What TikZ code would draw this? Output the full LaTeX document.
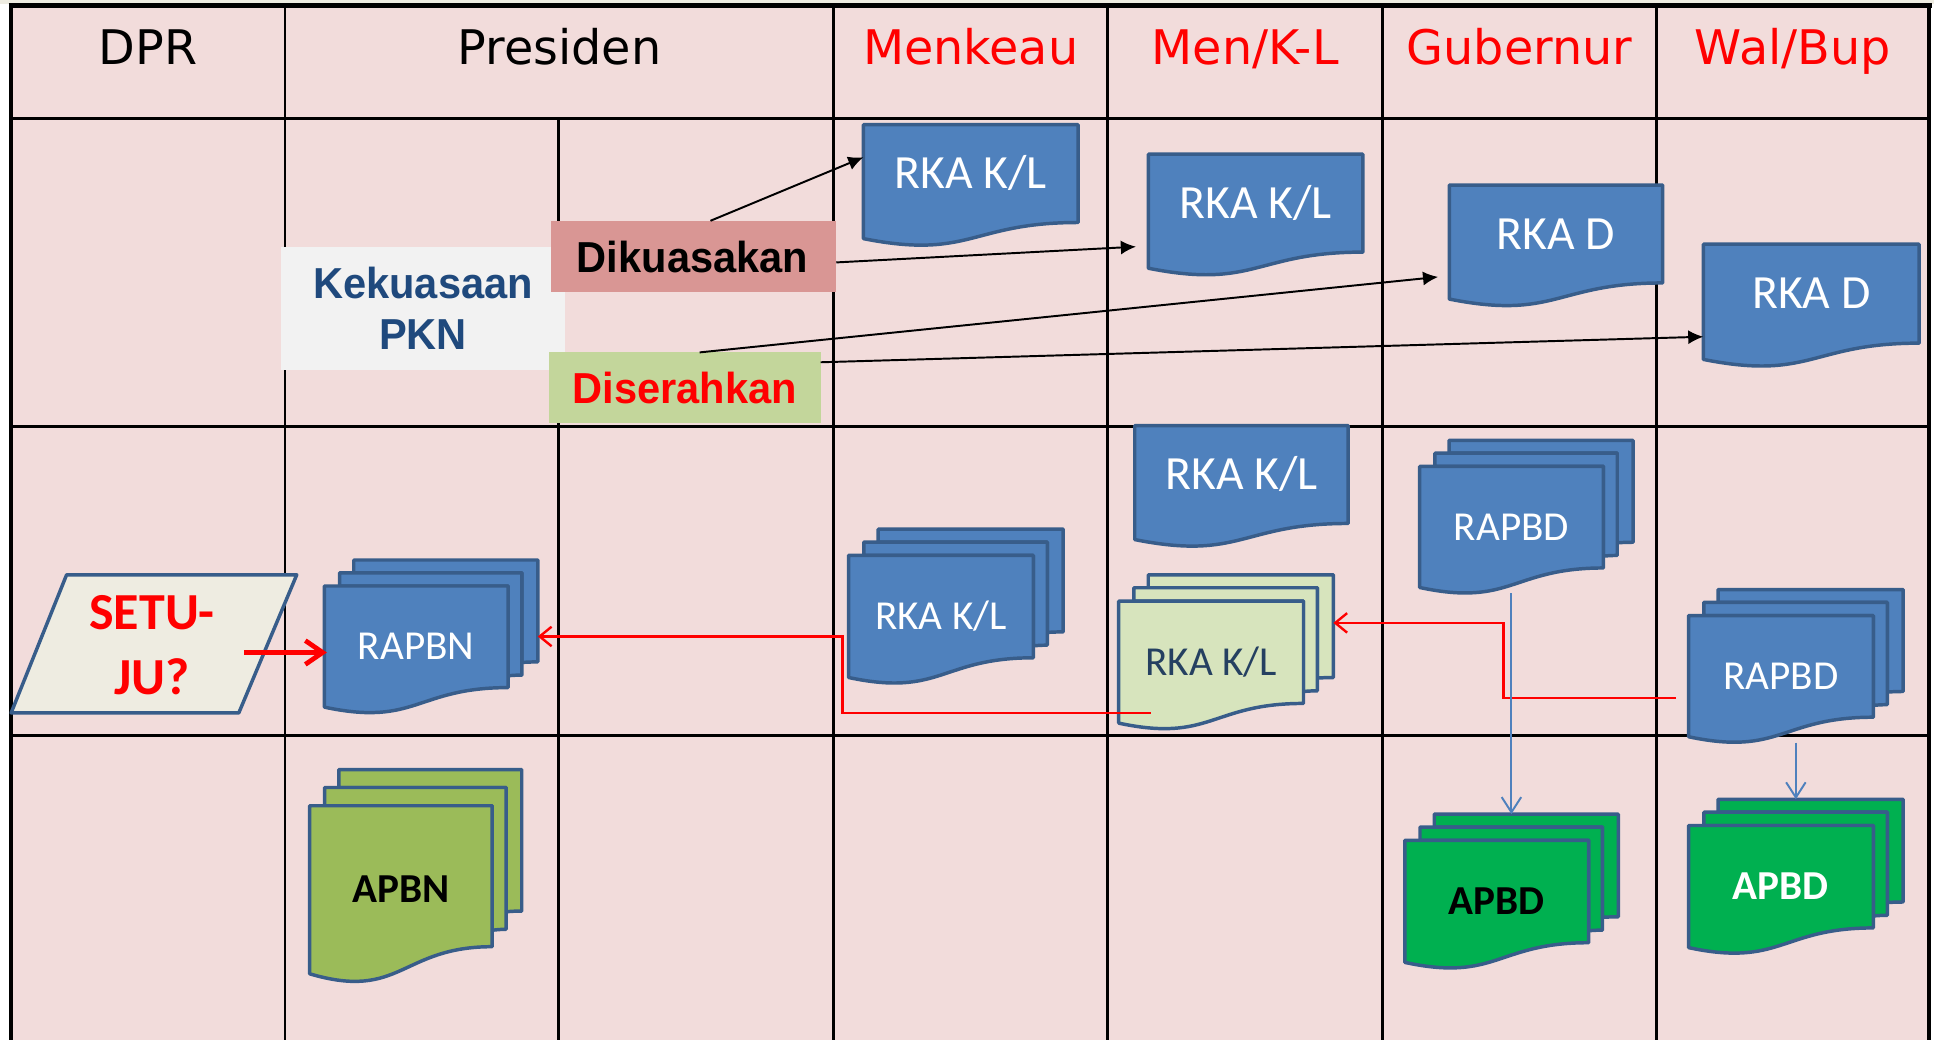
\documentclass[tikz,border=0pt]{standalone}
\usepackage{fontspec}
\setmainfont{Carlito}
\newfontfamily\hdrfont{DejaVu Sans}
\newfontfamily\arialfont{Liberation Sans}[FakeStretch=0.96]
\usetikzlibrary{arrows.meta,calc,fit}

\definecolor{cellpink}{HTML}{F2DCDB}
\definecolor{slidebeige}{HTML}{EEECE1}
\definecolor{docblue}{HTML}{4F81BD}
\definecolor{docedge}{HTML}{385D8A}
\definecolor{palegreen}{HTML}{D7E4BD}
\definecolor{olivegreen}{HTML}{9BBB59}
\definecolor{brightgreen}{HTML}{00B050}
\definecolor{navytext}{HTML}{1F497D}
\definecolor{darknavy}{HTML}{254061}
\definecolor{rosebox}{HTML}{D99694}
\definecolor{limebox}{HTML}{C3D69B}
\definecolor{greybox}{HTML}{F2F2F2}
\definecolor{pureRed}{HTML}{FF0000}

\tikzset{
  gridline/.style={line width=1.3pt, draw=black},
  docline/.style={draw=docedge, line width=1.6pt, line join=round},
  bigdoctext/.style={font=\fontsize{22}{26}\selectfont, text=white, inner sep=0pt,
    text height=14.2pt, text depth=0pt},
  doctext/.style={font=\fontsize{19}{23}\selectfont, text=white, inner sep=0pt,
    text height=12.2pt, text depth=0pt},
  doctextbold/.style={doctext, font=\fontsize{19}{23}\selectfont\bfseries},
  hdr/.style={font=\hdrfont\fontsize{22}{26}\selectfont, inner sep=0pt,
    text height=16pt, text depth=0pt},
  areabox/.style={inner sep=0pt, outer sep=0pt},
  labeltext/.style={inner sep=0pt, font=\arialfont\bfseries\fontsize{20}{23.3}\selectfont},
  blackarrow/.style={line width=0.9pt, -{Latex[length=7pt,width=6.5pt]}},
  redlink/.style={draw=pureRed, line width=1.1pt, -{Straight Barb[length=5.5pt,width=9pt]}},
  redthick/.style={draw=pureRed, line width=2.2pt, -{Straight Barb[length=8pt,width=11pt]}},
  bluelink/.style={draw=docblue, line width=0.9pt, -{Straight Barb[length=7pt,width=9pt]}},
}

% single document shape: name, left, top, width, height, fill, text style, text
\newcommand{\SingleDoc}[8]{%
  \begin{scope}[shift={(#2,#3)}, x={(#4*0.02cm,0)}, y={(0,-#5*0.02cm)}]
    \path[docline, fill=#6] (0,0) -- (1,0) -- (1,0.8019)
      .. controls (0.5,0.8019) and (0.5,1.1075) .. (0,0.9339) -- cycle;
    \node[fit={(0,0) (1,1)}, areabox] (#1) {};
    \node[#7] (#1-t) at (0.5,0.40) {#8};
  \end{scope}}

% stacked (multi) document shape, same arguments
\newcommand{\MultiDoc}[8]{%
  \begin{scope}[shift={(#2,#3)}, x={(#4*0.02cm,0)}, y={(0,-#5*0.02cm)}]
    \path[docline, fill=#6] (0.1376,0.0840) -- (0.1376,0) -- (1,0) -- (1,0.6663)
      .. controls (0.9630,0.6663) and (0.9259,0.6698) .. (0.9259,0.6698)
      -- (0.9259,0.0840) -- cycle;
    \path[docline, fill=#6] (0.0709,0.1701) -- (0.0709,0.0840) -- (0.9259,0.0840)
      -- (0.9259,0.7524) .. controls (0.8934,0.7524) and (0.8609,0.7570) .. (0.8609,0.7570)
      -- (0.8609,0.1701) -- cycle;
    \path[docline, fill=#6] (0,0.9621) .. controls (0.4305,1.0899) and (0.4305,0.8344) .. (0.8609,0.8344)
      -- (0.8609,0.1701) -- (0,0.1701) -- cycle;
    \node[fit={(0,0) (1,1)}, areabox] (#1) {};
    \node[#7] (#1-t) at (0.43,0.566) {#8};
  \end{scope}}

\begin{document}
\begin{tikzpicture}[x=0.02cm, y=-0.02cm]
\useasboundingbox (0,0) rectangle (1568,843);
\fill[white] (0,0) rectangle (1568,843);
\fill[slidebeige] (0,0) rectangle (1568,3);
\fill[cellpink] (9,5) rectangle (1564,843);

% table grid
\draw[gridline] (9,96) -- (1564,96) (9,346) -- (1564,346) (9,596) -- (1564,596);
\draw[gridline] (231,5) -- (231,843) (676,5) -- (676,843) (898,5) -- (898,843)
  (1121,5) -- (1121,843) (1343,5) -- (1343,843) (453,96) -- (453,843);
\draw[line width=2pt] (9,4) -- (9,843);
\draw[line width=1.7pt] (1564,4) -- (1564,843);
\draw[line width=2.6pt] (7,4.5) -- (1566,4.5);

% column headers
\node[hdr] (hdpr) at (120,38) {DPR};
\node[hdr] (hpres) at (453.5,38) {Presiden};
\node[hdr, text=pureRed] (hmenkeau) at (787,38) {Menkeau};
\node[hdr, text=pureRed] (hmenkl) at (1009.5,38) {Men/K-L};
\node[hdr, text=pureRed] (hgub) at (1232,38) {Gubernur};
\node[hdr, text=pureRed] (hwal) at (1453.5,38) {Wal/Bup};

% authority boxes
\node[areabox, fill=greybox, fit={(228,200) (458,300)}] (kek) {};
\node[labeltext, text=navytext, align=center] (kek-t) at ($(kek.center)+(0,0)$) {Kekuasaan\\PKN};
\node[areabox, fill=rosebox, fit={(447,179) (678,236.5)}] (dik) {};
\node[labeltext, text height=14.3pt, text depth=0pt] (dik-t) at ($(dik.center)+(-1,0.5)$) {Dikuasakan};
\node[areabox, fill=limebox, fit={(445,285.7) (665.4,342.7)}] (dis) {};
\node[labeltext, text=pureRed, text height=14.3pt, text depth=0pt] (dis-t) at ($(dis.center)+(0,0.5)$) {Diserahkan};

% budget documents
\SingleDoc{d1}{700}{101}{174}{99}{docblue}{bigdoctext}{RKA K/L}
\SingleDoc{d2}{931}{125}{174}{99}{docblue}{bigdoctext}{RKA K/L}
\SingleDoc{d3}{1175}{150}{173}{99}{docblue}{bigdoctext}{RKA D}
\SingleDoc{d4}{1381}{198}{175}{100}{docblue}{bigdoctext}{RKA D}
\SingleDoc{d5}{920}{345}{173}{99}{docblue}{bigdoctext}{RKA K/L}

\MultiDoc{rapbn}{263}{454}{173}{124}{docblue}{doctext}{RAPBN}
\MultiDoc{apbn}{251}{624}{172}{172}{olivegreen}{doctextbold, text=black}{APBN}
\MultiDoc{rkm}{688}{429}{174}{125}{docblue}{doctext}{RKA K/L}
\MultiDoc{rkg}{907}{466}{174}{125}{palegreen}{doctext, text=darknavy}{RKA K/L}
\MultiDoc{rg}{1151}{357}{173}{124}{docblue}{doctext}{RAPBD}
\MultiDoc{rw}{1369}{478}{174}{124}{docblue}{doctext}{RAPBD}
\MultiDoc{ag}{1139}{660}{173}{125}{brightgreen}{doctextbold, text=black}{APBD}
\MultiDoc{aw}{1369}{648}{174}{125}{brightgreen}{doctextbold}{APBD}

% approval decision
\path[docline, fill=slidebeige] (54,466) -- (240.6,466) -- (193.6,578) -- (9,578) -- cycle;
\node[fit={(9,466) (240.6,578)}, areabox] (setuju) {};
\node[inner sep=0pt, align=center, text=pureRed, font=\bfseries\fontsize{24}{29.6}\selectfont]
  (setuju-t) at ($(setuju.center)+(-1.5,1)$) {SETU-\\JU?};

% delegation arrows
\draw[blackarrow] ($(dik.north)+(13.5,0)$) -- ($(d1.west)+(0,-23)$);
\draw[blackarrow] ($(dik.east)+(0,5)$) -- ($(d2.west)+(-10,25.5)$);
\draw[blackarrow] ($(dis.north)+(12,0)$) -- ($(d3.west)+(-9,25)$);
\draw[blackarrow] ($(dis.east)+(0,-20.5)$) -- ($(d4.west)+(0,25)$);

% submission flows
\draw[redthick] ($(setuju.east)+(-42.6,7)$) -- ($(rapbn.west)+(2,13)$);
\draw[redlink] ($(rkg.south west)+(26,-13)$) -- ++(-250,0) |- (rapbn.east);
\draw[redlink] ($(rw.west)+(-10,26)$) -- ++(-140,0) |- ($(rkg.east)+(0,-23.5)$);
\draw[bluelink] (rg-t |- rg.south) -- (rg-t |- ag.north);
\draw[bluelink] (rw.south) -- (aw.north);
\end{tikzpicture}
\end{document}
